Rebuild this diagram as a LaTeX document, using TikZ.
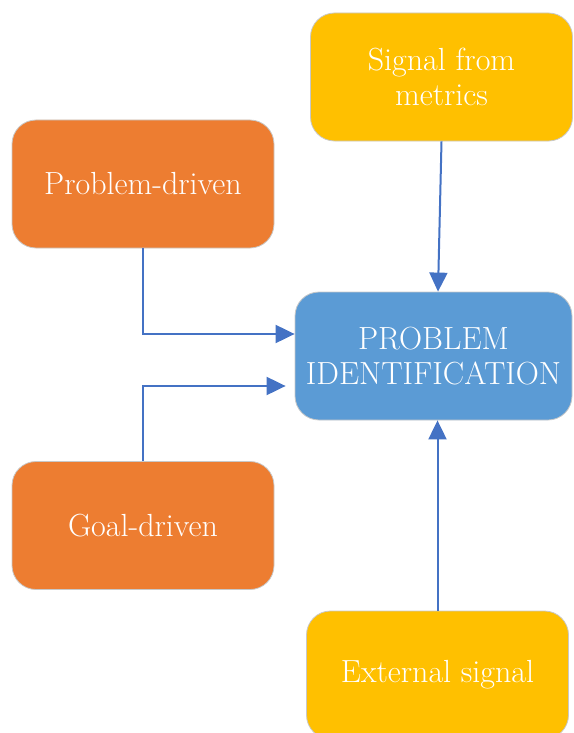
\documentclass[tikz,border=0pt]{standalone}
\usepackage{fontspec}
\usepackage{tikz}
\usepackage{xcolor}
\usetikzlibrary{positioning, arrows.meta}
\definecolor{idorange}{RGB}{237, 125, 49}
\definecolor{idyellow}{RGB}{255, 192, 0}
\definecolor{idblue}{RGB}{91, 155, 213}
\definecolor{idarrow}{RGB}{68, 114, 196}
\definecolor{idedge}{RGB}{200, 200, 200}
\tikzset{
    idnode/.style={rectangle, rounded corners=24pt, draw=idedge, line width=0.8pt, text=white, align=center,
        minimum width=262pt, minimum height=128pt, font=\fontsize{32}{35}\selectfont},
    drivernode/.style={idnode, fill=idorange},
    signalnode/.style={idnode, fill=idyellow},
    mainnode/.style={idnode, fill=idblue, minimum width=277pt},
    idlink/.style={draw=idarrow, line width=2pt, -{Triangle[length=19pt, width=18pt]}}
}

\begin{document}
\begin{tikzpicture}[x=1pt, y=-1pt]
    \useasboundingbox (0,0) rectangle (573,733);
    \node[signalnode] (metrics) at (441.5,77) {Signal from\\metrics};
    \node[drivernode] (problem) at (143,184) {Problem-driven};
    \node[mainnode] (ident) at (433.5,356) {PROBLEM\\IDENTIFICATION};
    \node[drivernode] (goal) at (143,525.5) {Goal-driven};
    \node[signalnode] (external) at (437.5,675) {External signal};
    % connectors
    \draw[idlink] (metrics.south) -- ([xshift=4.5pt]ident.north);
    \draw[idlink] (problem.south) |- ([yshift=22pt]ident.west);
    \draw[idlink] (goal.north) |- ([xshift=-9pt, yshift=-30pt]ident.west);
    \draw[idlink] (external.north) -- ([xshift=4pt]ident.south);
\end{tikzpicture}
\end{document}
